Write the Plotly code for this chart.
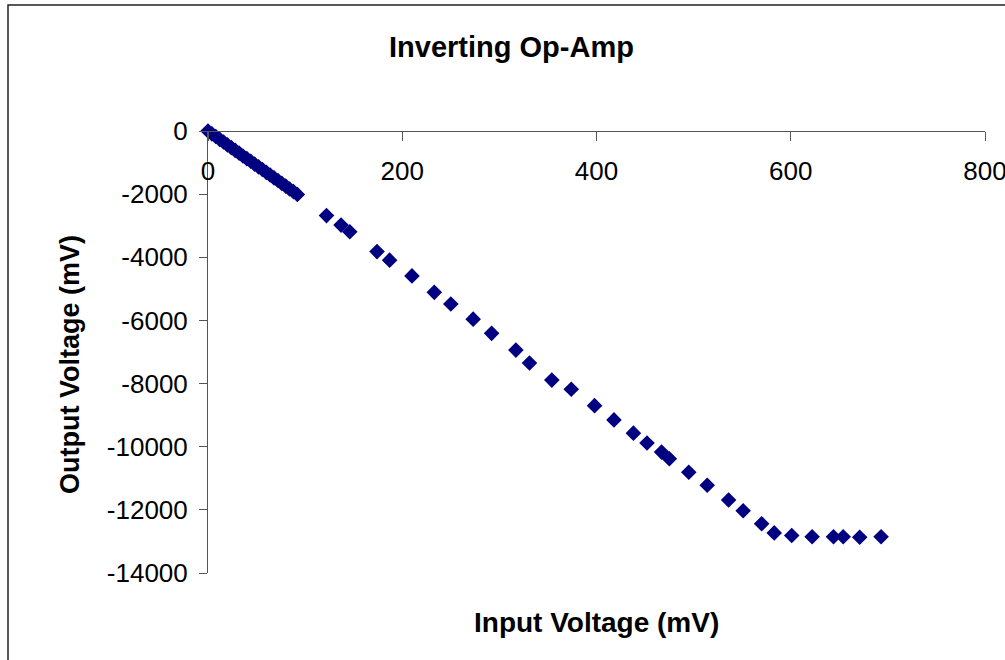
import plotly.graph_objects as go

# Data (mV)
input_mv = [0, 4, 8, 12, 16, 20, 24, 28, 32, 36, 40, 44, 48, 52, 56, 60, 64, 68,
            72, 76, 80, 84, 88, 92,
            122, 137, 146, 174, 187, 210, 233, 250, 273, 292, 317, 331, 354,
            374, 398, 418, 438, 452, 467, 475, 495, 514, 536, 551, 570, 583,
            601, 622, 644, 654, 671, 693]
output_mv = [0, -90, -175, -265, -350, -440, -525, -615, -700, -790, -875, -960,
             -1050, -1135, -1220, -1310, -1395, -1485, -1570, -1660, -1745, -1835,
             -1920, -2010,
             -2680, -2980, -3190, -3820, -4090, -4590, -5110, -5480, -5960, -6410,
             -6940, -7350, -7890, -8180, -8700, -9150, -9570, -9880, -10170,
             -10380, -10810, -11220, -11690, -12030, -12440, -12730, -12810,
             -12850, -12850, -12850, -12870, -12850]

x_ticks = [0, 200, 400, 600, 800]
y_ticks = [0, -2000, -4000, -6000, -8000, -10000, -12000, -14000]
y_ticktext = ["0", "-2000", "-4000", "-6000", "-8000", "-10000", "-12000", "-14000"]

FONT = "Liberation Sans, Arial, sans-serif"
L, R, T, B = 208, 20, 131, 87
W, H = 1005, 660
pw, ph = W - L - R, H - T - B

fig = go.Figure()
fig.add_trace(go.Scatter(
    x=input_mv, y=output_mv, mode="markers",
    marker=dict(symbol="diamond", size=12, color="#000080",
                line=dict(width=0)),
    cliponaxis=False, showlegend=False,
))

axis_color = "#555555"
fig.update_layout(
    width=W, height=H,
    margin=dict(l=L, r=R, t=T, b=B, autoexpand=False),
    paper_bgcolor="white", plot_bgcolor="white",
    font=dict(family=FONT, size=26, color="black"),
    xaxis=dict(
        range=[0, 800], tickvals=x_ticks, ticktext=[str(v) for v in x_ticks],
        anchor="free", position=1, side="bottom",
        showline=True, linecolor=axis_color, linewidth=1,
        ticks="outside", ticklen=9, tickcolor=axis_color, tickwidth=1,
        showgrid=False, zeroline=False, ticklabelstandoff=8,
        ticklabeloverflow="allow",
        tickfont=dict(family=FONT, size=26, color="black"),
    ),
    yaxis=dict(
        range=[-14000, 0], tickvals=y_ticks, ticktext=y_ticktext,
        showline=True, linecolor=axis_color, linewidth=1,
        ticks="outside", ticklen=8, tickcolor=axis_color, tickwidth=1,
        showgrid=False, zeroline=False, ticklabelstandoff=6,
        tickfont=dict(family=FONT, size=26, color="black"),
    ),
    annotations=[
        dict(text="<b>Inverting Op-Amp</b>", xref="paper", yref="paper",
             x=(511 - L) / pw, y=(H - B - 47) / ph, showarrow=False,
             xanchor="center", yanchor="middle",
             font=dict(family=FONT, size=29, color="black")),
        dict(text="<b>Input Voltage (mV)</b>", xref="paper", yref="paper",
             x=(596 - L) / pw, y=(H - B - 622) / ph, showarrow=False,
             xanchor="center", yanchor="middle",
             font=dict(family=FONT, size=28, color="black")),
        dict(text="<b>Output Voltage (mV)</b>", xref="paper", yref="paper",
             x=(70 - L) / pw, y=(H - B - 365) / ph, showarrow=False,
             xanchor="center", yanchor="middle", textangle=-90,
             font=dict(family=FONT, size=27, color="black")),
    ],
    shapes=[
        dict(type="rect", xref="paper", yref="paper",
             x0=(8 - L) / pw, x1=(1012 - L) / pw,
             y0=(H - B - 668) / ph, y1=(H - B - 5) / ph,
             line=dict(color="#222222", width=1.5), fillcolor="rgba(0,0,0,0)",
             layer="below"),
    ],
)

fig.write_html("out.html")
